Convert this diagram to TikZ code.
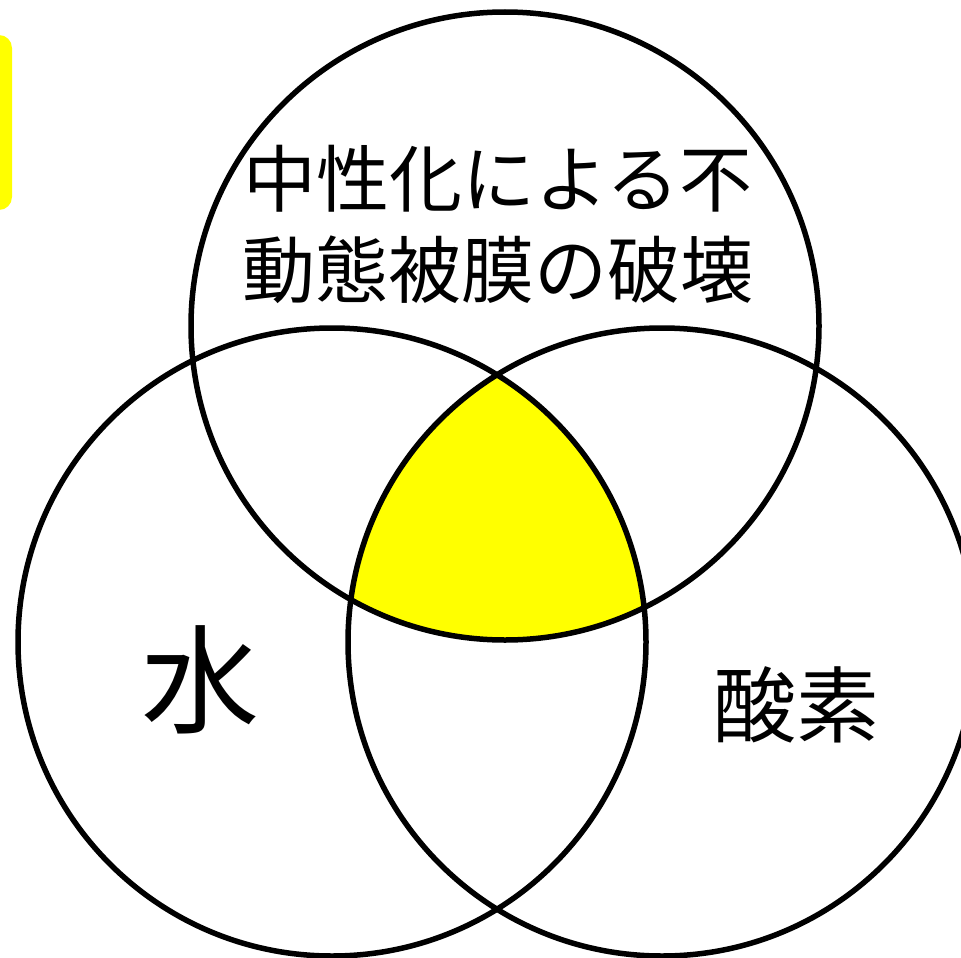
\documentclass[tikz,border=0pt]{standalone}
\usepackage{fontspec}
\newfontfamily\jp{Noto Sans CJK JP}
\definecolor{pureyellow}{RGB}{255,255,0}
\begin{document}
\begin{tikzpicture}[x=1pt,y=-1pt,
  ring/.style={draw=black,line width=5.5pt},
  lbl/.style={font=\jp,text=black,inner sep=0pt,align=center}]
\useasboundingbox (0,0) rectangle (961,958);
\begin{scope}
\clip (0,0) rectangle (961,958);
\fill[pureyellow,rounded corners=13pt] (-40,35) rectangle (12,210);
\end{scope}
% triple intersection
\begin{scope}
\clip (505,326) circle (314pt);
\clip (332,642) circle (314pt);
\fill[pureyellow] (662,642) circle (314pt);
\end{scope}
\begin{scope}
\clip (0,0) rectangle (961,958);
\draw[ring] (505,326) circle (314pt);
\draw[ring] (332,642) circle (314pt);
\draw[ring] (662,642) circle (314pt);
\end{scope}
\node[lbl,font=\jp\fontsize{73}{91}\selectfont] (top) at (498,224) {中性化による不\\動態被膜の破壊};
\node[lbl,font=\jp\fontsize{118}{118}\selectfont] (water) at (200,680) {水};
\node[lbl,font=\jp\fontsize{83}{83}\selectfont] (oxygen) at (796,705) {酸素};
\end{tikzpicture}
\end{document}
